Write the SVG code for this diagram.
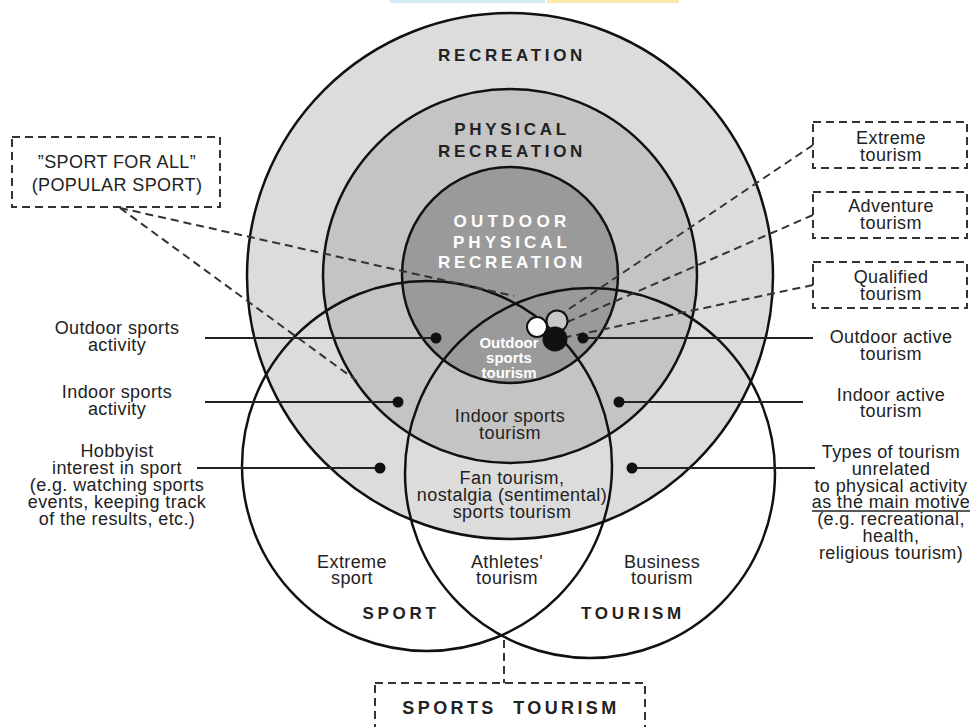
<svg xmlns="http://www.w3.org/2000/svg" width="970" height="727" viewBox="0 0 970 727">
<style>
.c{stroke:#111;stroke-width:2.5}
.o{fill:none;stroke:#111;stroke-width:2.5}
.d{fill:none;stroke:#333;stroke-width:2;stroke-dasharray:8 5}
.bx{fill:#fff;stroke:#333;stroke-width:2;stroke-dasharray:8 5}
.l{stroke:#222;stroke-width:1.8}
.dot{fill:#111}
.t{font-family:"Liberation Sans",Arial,sans-serif;font-size:18px;letter-spacing:0.4px;fill:#222;text-anchor:middle}
.b{font-size:17px;font-weight:bold;letter-spacing:3.7px}
.w{fill:#fff}
</style>
<rect x="0" y="0" width="970" height="727" fill="#fff"/>
<rect x="390" y="0" width="155" height="3" fill="#d6eaf5"/>
<rect x="547" y="0" width="132" height="3" fill="#fde8ae"/>

<g id="recreation">
<circle class="c" cx="510" cy="276" r="263" fill="#dcdcdc"/>
<text class="t b" x="512" y="61">RECREATION</text>
</g>
<g id="physical-recreation">
<circle class="c" cx="510" cy="276" r="187" fill="#c4c4c4"/>
<text class="t b" x="512" y="135">PHYSICAL</text>
<text class="t b" x="512" y="157">RECREATION</text>
</g>
<g id="outdoor-physical-recreation">
<circle class="c" cx="510" cy="275" r="108" fill="#9a9a9a"/>
<text class="t b w" x="512" y="227" style="letter-spacing:4.3px">OUTDOOR</text>
<text class="t b w" x="512" y="248" style="letter-spacing:4px">PHYSICAL</text>
<text class="t b w" x="512" y="268">RECREATION</text>
</g>
<g id="sport">
<circle class="o" cx="427" cy="466" r="185"/>
<text class="t b" x="401" y="619">SPORT</text>
</g>
<g id="tourism">
<circle class="o" cx="590" cy="473" r="185"/>
<text class="t b" x="633" y="619">TOURISM</text>
</g>

<g id="connectors">
<line class="d" x1="120" y1="208" x2="514" y2="296"/>
<line class="d" x1="120" y1="208" x2="357" y2="381"/>
<line class="d" x1="813" y1="145" x2="560" y2="315"/>
<line class="d" x1="813" y1="215" x2="565" y2="323"/>
<line class="d" x1="813" y1="285" x2="567" y2="337"/>
<line class="d" x1="504" y1="640" x2="504" y2="683"/>
<line class="l" x1="205" y1="338" x2="436" y2="338"/>
<line class="l" x1="205" y1="402" x2="398" y2="402"/>
<line class="l" x1="197" y1="468" x2="380" y2="468"/>
<line class="l" x1="583" y1="338" x2="813" y2="338"/>
<line class="l" x1="619" y1="402" x2="803" y2="402"/>
<line class="l" x1="632" y1="468" x2="815" y2="468"/>
<circle class="dot" cx="436" cy="338" r="5.5"/>
<circle class="dot" cx="398" cy="402" r="5.5"/>
<circle class="dot" cx="380" cy="468" r="5.5"/>
<circle class="dot" cx="583" cy="338" r="5.5"/>
<circle class="dot" cx="619" cy="402" r="5.5"/>
<circle class="dot" cx="632" cy="468" r="5.5"/>
</g>

<g id="markers">
<circle cx="537" cy="327" r="10" fill="#fff" stroke="#111" stroke-width="2"/>
<circle cx="557" cy="321" r="10.5" fill="#c8c8c8" stroke="#111" stroke-width="2"/>
<circle cx="555" cy="339" r="12.5" fill="#111"/>
</g>

<g id="outdoor-sports-tourism">
<text class="t w" x="509" y="348" style="font-size:15px;font-weight:bold;letter-spacing:0">Outdoor</text>
<text class="t w" x="509" y="363" style="font-size:15px;font-weight:bold;letter-spacing:0">sports</text>
<text class="t w" x="509" y="378" style="font-size:15px;font-weight:bold;letter-spacing:0">tourism</text>
</g>
<g id="indoor-sports-tourism">
<text class="t" x="510" y="422">Indoor sports</text>
<text class="t" x="510" y="439">tourism</text>
</g>
<g id="fan-tourism">
<text class="t" x="512" y="484">Fan tourism,</text>
<text class="t" x="512" y="501">nostalgia (sentimental)</text>
<text class="t" x="512" y="518">sports tourism</text>
</g>
<g id="extreme-sport">
<text class="t" x="352" y="568">Extreme</text>
<text class="t" x="352" y="584">sport</text>
</g>
<g id="athletes-tourism">
<text class="t" x="507" y="568">Athletes'</text>
<text class="t" x="507" y="584">tourism</text>
</g>
<g id="business-tourism">
<text class="t" x="662" y="568">Business</text>
<text class="t" x="662" y="584">tourism</text>
</g>

<g id="sport-for-all">
<rect class="bx" x="12" y="137" width="208" height="70"/>
<text class="t" x="117" y="168">”SPORT FOR ALL”</text>
<text class="t" x="117" y="191">(POPULAR SPORT)</text>
</g>
<g id="extreme-tourism">
<rect class="bx" x="813" y="122" width="154" height="46"/>
<text class="t" x="891" y="144">Extreme</text>
<text class="t" x="891" y="161">tourism</text>
</g>
<g id="adventure-tourism">
<rect class="bx" x="813" y="192" width="154" height="46"/>
<text class="t" x="891" y="212">Adventure</text>
<text class="t" x="891" y="229">tourism</text>
</g>
<g id="qualified-tourism">
<rect class="bx" x="813" y="262" width="154" height="46"/>
<text class="t" x="891" y="283">Qualified</text>
<text class="t" x="891" y="300">tourism</text>
</g>

<g id="outdoor-sports-activity">
<text class="t" x="117" y="334">Outdoor sports</text>
<text class="t" x="117" y="351">activity</text>
</g>
<g id="indoor-sports-activity">
<text class="t" x="117" y="398">Indoor sports</text>
<text class="t" x="117" y="415">activity</text>
</g>
<g id="hobbyist">
<text class="t" x="117" y="457">Hobbyist</text>
<text class="t" x="117" y="474">interest in sport</text>
<text class="t" x="117" y="491">(e.g. watching sports</text>
<text class="t" x="117" y="508">events, keeping track</text>
<text class="t" x="117" y="525">of the results, etc.)</text>
</g>
<g id="outdoor-active-tourism">
<text class="t" x="891" y="343">Outdoor active</text>
<text class="t" x="891" y="360">tourism</text>
</g>
<g id="indoor-active-tourism">
<text class="t" x="891" y="401">Indoor active</text>
<text class="t" x="891" y="417">tourism</text>
</g>
<g id="other-tourism">
<text class="t" x="891" y="458">Types of tourism</text>
<text class="t" x="891" y="475">unrelated</text>
<text class="t" x="891" y="492">to physical activity</text>
<text class="t" x="891" y="508">as the main motive</text>
<line x1="812" y1="511" x2="970" y2="511" stroke="#222" stroke-width="1.3"/>
<text class="t" x="891" y="525">(e.g. recreational,</text>
<text class="t" x="891" y="542">health,</text>
<text class="t" x="891" y="559">religious tourism)</text>
</g>

<g id="sports-tourism">
<rect class="bx" x="375" y="683" width="270" height="60"/>
<text class="t b" x="511" y="714" style="font-size:18px;letter-spacing:3.4px;word-spacing:8px">SPORTS TOURISM</text>
</g>
</svg>
